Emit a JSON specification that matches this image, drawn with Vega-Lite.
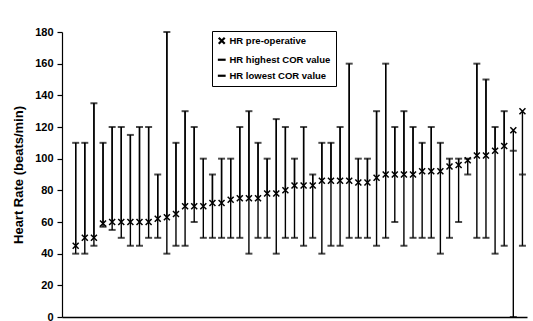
{
  "$schema": "https://vega.github.io/schema/vega-lite/v6.json",
  "width": 465,
  "height": 285,
  "autosize": {"type": "none"},
  "padding": {"left": 62, "top": 32, "right": 6, "bottom": 4},
  "background": "white",
  "config": {
    "view": {"stroke": null},
    "font": "Liberation Sans",
    "axis": {"labelFont": "Liberation Sans", "titleFont": "Liberation Sans", "labelFontWeight": "bold", "titleFontWeight": "bold", "labelColor": "black", "titleColor": "black", "domainColor": "black", "tickColor": "black"},
    "axisY": {"labelOverlap": false, "labelFlush": false, "grid": false, "labelFontSize": 11, "titleFontSize": 13, "tickSize": 5, "labelPadding": 4, "titlePadding": 9, "domainWidth": 1.2, "tickWidth": 1.2}
  },
  "data": {
    "values": [
      {"id": 1, "hi": 110, "lo": 40, "pre": 45},
      {"id": 2, "hi": 110, "lo": 40, "pre": 50},
      {"id": 3, "hi": 135, "lo": 45, "pre": 50},
      {"id": 4, "hi": 110, "lo": 57, "pre": 59},
      {"id": 5, "hi": 120, "lo": 55, "pre": 60},
      {"id": 6, "hi": 120, "lo": 50, "pre": 60},
      {"id": 7, "hi": 115, "lo": 45, "pre": 60},
      {"id": 8, "hi": 120, "lo": 45, "pre": 60},
      {"id": 9, "hi": 120, "lo": 50, "pre": 60},
      {"id": 10, "hi": 90, "lo": 50, "pre": 62},
      {"id": 11, "hi": 180, "lo": 40, "pre": 63},
      {"id": 12, "hi": 110, "lo": 45, "pre": 65},
      {"id": 13, "hi": 130, "lo": 45, "pre": 70},
      {"id": 14, "hi": 120, "lo": 60, "pre": 70},
      {"id": 15, "hi": 100, "lo": 50, "pre": 70},
      {"id": 16, "hi": 90, "lo": 50, "pre": 72},
      {"id": 17, "hi": 100, "lo": 50, "pre": 72},
      {"id": 18, "hi": 100, "lo": 50, "pre": 74},
      {"id": 19, "hi": 120, "lo": 50, "pre": 75},
      {"id": 20, "hi": 130, "lo": 40, "pre": 75},
      {"id": 21, "hi": 110, "lo": 50, "pre": 75},
      {"id": 22, "hi": 100, "lo": 50, "pre": 78},
      {"id": 23, "hi": 125, "lo": 40, "pre": 78},
      {"id": 24, "hi": 120, "lo": 50, "pre": 80},
      {"id": 25, "hi": 100, "lo": 50, "pre": 83},
      {"id": 26, "hi": 120, "lo": 45, "pre": 83},
      {"id": 27, "hi": 90, "lo": 50, "pre": 83},
      {"id": 28, "hi": 110, "lo": 40, "pre": 86},
      {"id": 29, "hi": 110, "lo": 45, "pre": 86},
      {"id": 30, "hi": 120, "lo": 45, "pre": 86},
      {"id": 31, "hi": 160, "lo": 50, "pre": 86},
      {"id": 32, "hi": 100, "lo": 50, "pre": 85},
      {"id": 33, "hi": 100, "lo": 50, "pre": 85},
      {"id": 34, "hi": 130, "lo": 45, "pre": 88},
      {"id": 35, "hi": 160, "lo": 50, "pre": 90},
      {"id": 36, "hi": 120, "lo": 60, "pre": 90},
      {"id": 37, "hi": 130, "lo": 45, "pre": 90},
      {"id": 38, "hi": 120, "lo": 50, "pre": 90},
      {"id": 39, "hi": 110, "lo": 50, "pre": 92},
      {"id": 40, "hi": 120, "lo": 50, "pre": 92},
      {"id": 41, "hi": 110, "lo": 40, "pre": 92},
      {"id": 42, "hi": 100, "lo": 50, "pre": 95},
      {"id": 43, "hi": 100, "lo": 60, "pre": 96},
      {"id": 44, "hi": 100, "lo": 90, "pre": 99},
      {"id": 45, "hi": 160, "lo": 50, "pre": 102},
      {"id": 46, "hi": 150, "lo": 50, "pre": 102},
      {"id": 47, "hi": 120, "lo": 40, "pre": 105},
      {"id": 48, "hi": 130, "lo": 45, "pre": 108},
      {"id": 49, "hi": 105, "lo": 0, "pre": 118},
      {"id": 50, "hi": 90, "lo": 45, "pre": 130}
    ]
  },
  "encoding": {
    "x": {
      "field": "id",
      "type": "ordinal",
      "scale": {"domain": [0,1,2,3,4,5,6,7,8,9,10,11,12,13,14,15,16,17,18,19,20,21,22,23,24,25,26,27,28,29,30,31,32,33,34,35,36,37,38,39,40,41,42,43,44,45,46,47,48,49,50], "paddingInner": 0, "paddingOuter": 0},
      "axis": {"title": null, "labels": false, "ticks": false, "domainWidth": 1.5}
    }
  },
  "layer": [
    {
      "mark": {"type": "rule", "color": "black", "strokeWidth": 1.4},
      "encoding": {
        "y": {"field": "lo", "type": "quantitative", "scale": {"domain": [0, 180]}, "axis": {"title": "Heart Rate (beats/min)", "values": [0,20,40,60,80,100,120,140,160,180]}},
        "y2": {"field": "hi"}
      }
    },
    {
      "mark": {"type": "rule", "color": "black", "strokeWidth": 1.4},
      "encoding": {
        "y": {"field": "hi", "type": "quantitative", "axis": {"title": "Heart Rate (beats/min)", "values": [0,20,40,60,80,100,120,140,160,180]}},
        "y2": {"field": "pre"}
      }
    },
    {
      "mark": {"type": "tick", "color": "black", "size": 7, "thickness": 2, "orient": "horizontal"},
      "encoding": {"y": {"field": "hi", "type": "quantitative", "axis": {"title": "Heart Rate (beats/min)", "values": [0,20,40,60,80,100,120,140,160,180]}}}
    },
    {
      "mark": {"type": "tick", "color": "black", "size": 7, "thickness": 2, "orient": "horizontal"},
      "encoding": {"y": {"field": "lo", "type": "quantitative", "axis": {"title": "Heart Rate (beats/min)", "values": [0,20,40,60,80,100,120,140,160,180]}}}
    },
    {
      "mark": {"type": "point", "filled": false, "color": "black", "strokeWidth": 1.5, "size": 36, "opacity": 1},
      "encoding": {
        "y": {"field": "pre", "type": "quantitative", "axis": {"title": "Heart Rate (beats/min)", "values": [0,20,40,60,80,100,120,140,160,180]}},
        "shape": {
          "datum": "HR pre-operative",
          "scale": {"domain": ["HR pre-operative", "HR highest COR value", "HR lowest COR value"], "range": ["M-1,-1L1,1M-1,1L1,-1", "M-1.3,0L1.3,0", "M-1.3,0L1.3,0"]},
          "legend": {
            "title": null,
            "orient": "none",
            "legendX": 150,
            "legendY": -1,
            "padding": 5,
            "strokeColor": "black",
            "fillColor": "white",
            "labelFont": "Liberation Sans",
            "labelFontWeight": "bold",
            "labelFontSize": 9.5,
            "labelColor": "black",
            "labelLimit": 200,
            "symbolSize": 36,
            "symbolStrokeWidth": 2.2,
            "symbolStrokeColor": "black",
            "symbolFillColor": "transparent",
            "symbolOffset": 0,
            "labelOffset": 3,
            "rowPadding": 5
          }
        }
      }
    }
  ]
}
